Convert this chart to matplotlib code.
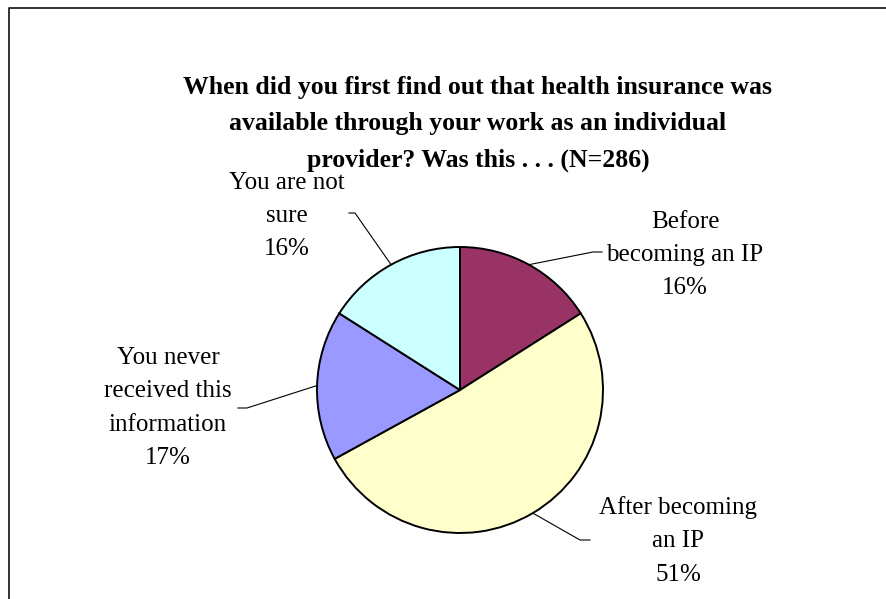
import numpy as np
import matplotlib
matplotlib.use("Agg")
import matplotlib.pyplot as plt

title = ("When did you first find out that health insurance was\n"
         "available through your work as an individual\n"
         "provider? Was this . . . (N=286)")

labels = ["Before\nbecoming an IP", "After becoming\nan IP",
          "You never\nreceived this\ninformation", "You are not\nsure"]
values = [16, 51, 17, 16]
colors = ["#993366", "#FFFFCC", "#9999FF", "#CCFFFF"]

W, H = 886, 599
fig = plt.figure(figsize=(W / 100, H / 100), dpi=100)
ax = fig.add_axes([0, 0, 1, 1])

cx, cy, r = 460, H - 390, 143
wedges, _ = ax.pie(values, colors=colors, startangle=90, counterclock=False,
                   center=(cx, cy), radius=r,
                   wedgeprops=dict(edgecolor="black", linewidth=1.4))
ax.set_xlim(0, W)
ax.set_ylim(0, H)
ax.set_aspect("auto")
ax.axis("off")

# label block centre, elbow of the leader line, end of the short horizontal tick
label_pos = [(685, 255), (678, 541), (168, 408), (287, 216)]
elbows = [(593, 252), (580, 540), (247, 408), (355, 213)]
tick_ends = [(602, 252), (590, 540), (238, 408), (349, 213)]

for w, lab, v, (lx, ly), (ex, ey), (tx, ty) in zip(
        wedges, labels, values, label_pos, elbows, tick_ends):
    mid = np.deg2rad((w.theta1 + w.theta2) / 2)
    sx, sy = cx + r * np.cos(mid), cy + r * np.sin(mid)
    ax.plot([sx, ex, tx], [sy, H - ey, H - ty], color="black", lw=0.8)
    ax.text(lx, H - ly, f"{lab}\n{v}%", ha="center", va="center",
            family="Liberation Serif", fontsize=18, linespacing=1.66)

ax.text(478, H - 124, title, ha="center", va="center",
        family="Liberation Serif", fontweight="bold", fontsize=18.5,
        linespacing=1.72)

# chart area frame (left and top edges only)
ax.plot([9, 9, W], [0, H - 8, H - 8], color="#222222", lw=1.3,
        clip_on=False)

fig.savefig("out.png", dpi=100)
